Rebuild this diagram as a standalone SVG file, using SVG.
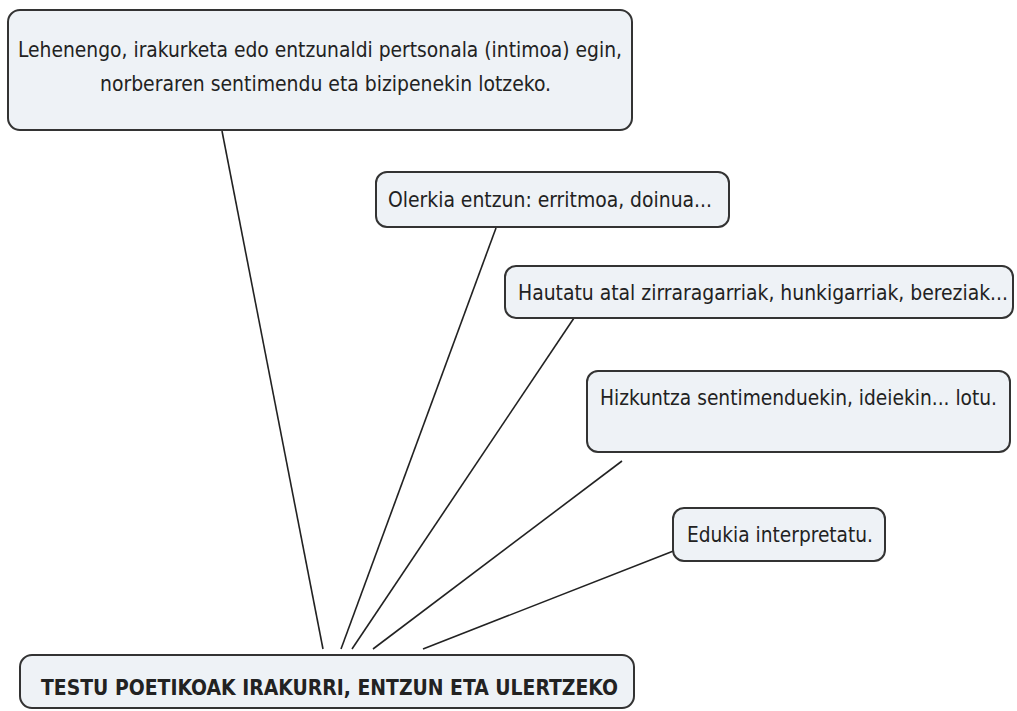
<svg xmlns="http://www.w3.org/2000/svg" width="1017" height="711" viewBox="0 0 1017 711">
<style>
.box{fill:#eef2f6;stroke:#333;stroke-width:2}
.t{font-family:"DejaVu Sans Condensed","DejaVu Sans",sans-serif;font-size:21px;fill:#222}
.b{font-weight:bold}
.c{stroke:#222;stroke-width:1.6;fill:none}
</style>
<rect width="1017" height="711" fill="#fff"/>
<g id="connectors">
<line class="c" x1="222" y1="131" x2="323" y2="649"/>
<line class="c" x1="496" y1="228" x2="341" y2="649"/>
<line class="c" x1="574" y1="318" x2="352" y2="649"/>
<line class="c" x1="622" y1="461" x2="373" y2="649"/>
<line class="c" x1="676" y1="550" x2="423" y2="649"/>
</g>
<g id="n1">
<rect class="box" x="8" y="10" width="624" height="120" rx="12"/>
<text class="t" x="18" y="57" textLength="604" lengthAdjust="spacingAndGlyphs">Lehenengo, irakurketa edo entzunaldi pertsonala (intimoa) egin,</text>
<text class="t" x="100" y="91" textLength="451" lengthAdjust="spacingAndGlyphs">norberaren sentimendu eta bizipenekin lotzeko.</text>
</g>
<g id="n2">
<rect class="box" x="376" y="172" width="353" height="55" rx="11"/>
<text class="t" x="388" y="207" textLength="324" lengthAdjust="spacingAndGlyphs">Olerkia entzun: erritmoa, doinua...</text>
</g>
<g id="n3">
<rect class="box" x="505" y="266" width="508" height="52" rx="11"/>
<text class="t" x="518" y="300" textLength="490" lengthAdjust="spacingAndGlyphs">Hautatu atal zirraragarriak, hunkigarriak, bereziak...</text>
</g>
<g id="n4">
<rect class="box" x="587" y="371" width="423" height="81" rx="11"/>
<text class="t" x="600" y="405" textLength="397" lengthAdjust="spacingAndGlyphs">Hizkuntza sentimenduekin, ideiekin... lotu.</text>
</g>
<g id="n5">
<rect class="box" x="673" y="508" width="212" height="53" rx="11"/>
<text class="t" x="687" y="542" textLength="186" lengthAdjust="spacingAndGlyphs">Edukia interpretatu.</text>
</g>
<g id="root">
<rect class="box" x="20" y="655" width="614" height="53" rx="12"/>
<text class="t b" x="41" y="695" textLength="577" lengthAdjust="spacingAndGlyphs">TESTU POETIKOAK IRAKURRI, ENTZUN ETA ULERTZEKO</text>
</g>
</svg>
